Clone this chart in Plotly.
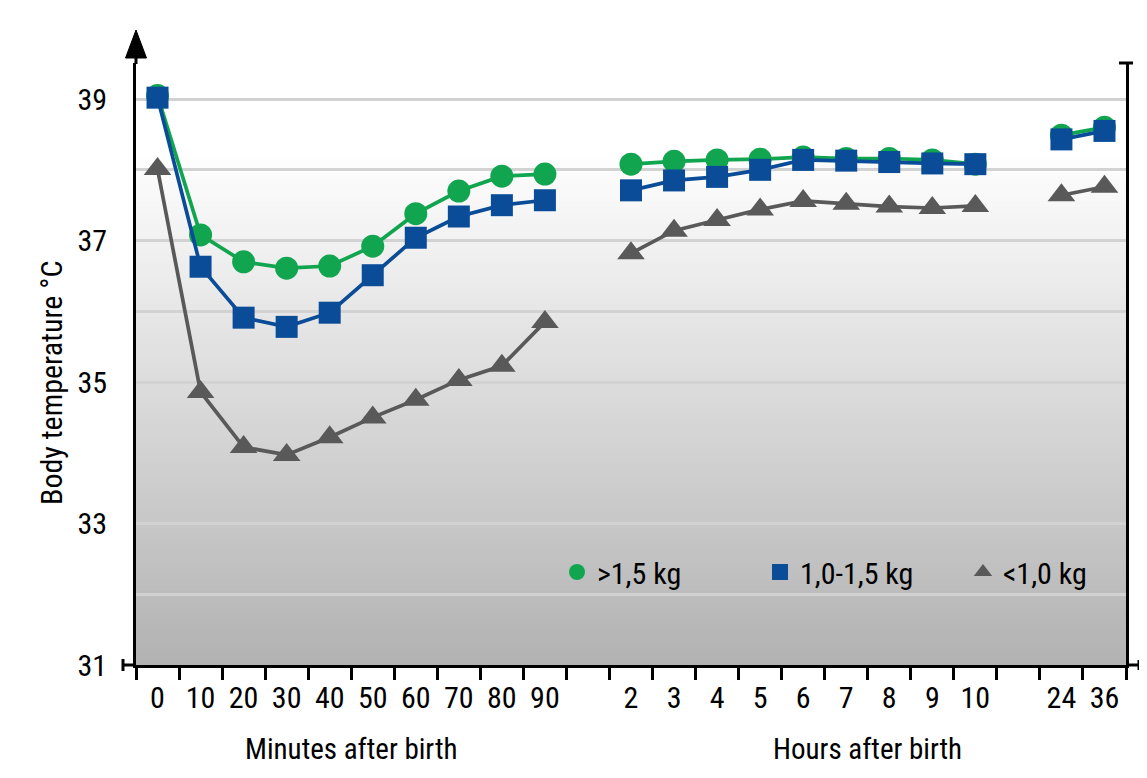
import plotly.graph_objects as go

# ---------------- data ----------------
x_labels = ["0", "10", "20", "30", "40", "50", "60", "70", "80", "90", "",
            "2", "3", "4", "5", "6", "7", "8", "9", "10", "",
            "24", "36"]
temp_over_1_5kg = [39.05, 37.08, 36.70, 36.61, 36.64, 36.92, 37.38, 37.70, 37.91, 37.94, None,
                   38.08, 38.12, 38.14, 38.15, 38.18, 38.16, 38.16, 38.14, 38.08, None,
                   38.49, 38.60]
temp_1_0_to_1_5kg = [39.02, 36.63, 35.91, 35.78, 35.98, 36.51, 37.04, 37.34, 37.50, 37.57, None,
                     37.71, 37.85, 37.90, 38.00, 38.14, 38.13, 38.11, 38.09, 38.08, None,
                     38.43, 38.55]
temp_under_1_0kg = [38.01, 34.86, 34.08, 33.97, 34.22, 34.50, 34.75, 35.03, 35.23, 35.85, None,
                    36.82, 37.14, 37.29, 37.44, 37.56, 37.52, 37.48, 37.46, 37.49, None,
                    37.64, 37.76]
series_names = [">1,5 kg", "1,0-1,5 kg", "<1,0 kg"]
y_tick_values = [31, 32, 33, 34, 35, 36, 37, 38, 39]
y_tick_labels = ["31", "", "33", "", "35", "", "37", "", "39"]
group_titles = ["Minutes after birth", "Hours after birth"]
y_title = "Body temperature °C"

# ---------------- style ----------------
FONT = "Liberation Sans Narrow, Arial Narrow, Roboto Condensed, sans-serif"
FS = 30
GREEN = "#12a550"
BLUE = "#0a4c97"
GRAY = "#595959"
OFF = 8                      # page body margin
SCREEN_W, SCREEN_H = 1147, 778
W, H = SCREEN_W - 2 * OFF, SCREEN_H - 2 * OFF
# plot area in screen pixels
PL, PR, PT, PB = 136, 1126, 63, 665
ML, MT = PL - OFF, PT - OFF
MR, MB = W - (PR - OFF), H - (PB - OFF)
Y0, Y1 = 31, 39.51
pw, ph = PR - PL, PB - PT

x = list(range(len(x_labels)))

fig = go.Figure()

# data traces (gray first, blue last so it sits on top)
for vals, col, sym, sz in [(temp_under_1_0kg, GRAY, "triangle-up", 24),
                           (temp_over_1_5kg, GREEN, "circle", 23),
                           (temp_1_0_to_1_5kg, BLUE, "square", 22)]:
    fig.add_trace(go.Scatter(x=x, y=vals, mode="lines+markers",
                             line=dict(color=col, width=3.7),
                             marker=dict(color=col, symbol=sym, size=sz),
                             connectgaps=False, showlegend=False, hoverinfo="skip"))

# legend entries (markers only)
for name, col, sym in zip(series_names, [GREEN, BLUE, GRAY], ["circle", "square", "triangle-up"]):
    fig.add_trace(go.Scatter(x=[None], y=[None], mode="markers", name=name,
                             marker=dict(color=col, symbol=sym, size=24)))


def px_to_paper(px, py):
    """screen pixel -> paper coords"""
    return (px - PL) / pw, (PB - py) / ph


shapes = []
# gradient background (white at top -> gray at bottom)
nb = 90
ytop_px = 150
for i in range(nb):
    py0 = PB - i * (PB - ytop_px) / nb
    py1 = PB - (i + 1) * (PB - ytop_px) / nb
    mid = (py0 + py1) / 2
    c = int(round(255 - (mid - ytop_px) * 0.15))
    c = max(0, min(255, c))
    shapes.append(dict(type="rect", xref="paper", yref="paper", x0=0, x1=1,
                       y0=(PB - py0) / ph, y1=(PB - py1) / ph + 0.002,
                       fillcolor=f"rgb({c},{c},{c})", line=dict(width=0), layer="below"))


def seg(p0, p1, w=3):
    a = px_to_paper(*p0)
    b = px_to_paper(*p1)
    shapes.append(dict(type="line", xref="paper", yref="paper", x0=a[0], y0=a[1], x1=b[0], y1=b[1],
                       line=dict(color="black", width=w), layer="above"))


# y-axis extension and arrowhead
seg((PL, PT + 1), (PL, 50))
ax, ay = px_to_paper(PL - 10.5, 58)
bx, by = px_to_paper(PL, 30)
cx, cy = px_to_paper(PL + 10.5, 58)
shapes.append(dict(type="path", xref="paper", yref="paper",
                   path=f"M {ax} {ay} L {bx} {by} L {cx} {cy} Z",
                   fillcolor="black", line=dict(color="black", width=1), layer="above"))
# right axis top cap
seg((PR - 7, PT), (PR + 7, PT))
# x-axis extension past right axis with end cap
seg((PR, PB), (PR + 13, PB))
seg((PR + 13, PB - 5), (PR + 13, PB + 5))
# y tick at 31 with end cap
seg((PL - 13, PB), (PL, PB))
seg((PL - 13, PB - 6), (PL - 13, PB + 6))

annotations = []
for title, xc in zip(group_titles, [4.5, 16.5]):
    annotations.append(dict(text=title, x=xc, xref="x", y=(PB - 749) / ph, yref="paper",
                            showarrow=False, xanchor="center", yanchor="middle",
                            font=dict(size=29, color="black", family=FONT)))
annotations.append(dict(text=y_title, x=(52 - PL) / pw, xref="paper", y=(PB - 383) / ph,
                        yref="paper", textangle=-90, showarrow=False,
                        xanchor="center", yanchor="middle",
                        font=dict(size=FS, color="black", family=FONT)))

fig.update_layout(
    width=W, height=H,
    margin=dict(l=ML, r=MR, t=MT, b=MB, autoexpand=False),
    paper_bgcolor="white", plot_bgcolor="white",
    font=dict(family=FONT, size=FS, color="black"),
    shapes=shapes, annotations=annotations,
    legend=dict(orientation="h", x=(557 - PL) / pw, xanchor="left",
                y=(PB - 572) / ph, yanchor="middle",
                bgcolor="rgba(0,0,0,0)", font=dict(size=FS, color="black", family=FONT),
                entrywidth=158, entrywidthmode="pixels", itemclick=False),
    xaxis=dict(range=[-0.5, len(x_labels) - 0.5], tickmode="array", tickvals=x, ticktext=x_labels,
               ticks="", showgrid=False, zeroline=False, showline=True, linecolor="black",
               linewidth=3, ticklabelstandoff=4, tickfont=dict(size=FS),
               minor=dict(tick0=-0.5, dtick=1, ticks="outside", ticklen=12, tickwidth=3,
                          tickcolor="black", showgrid=False)),
    yaxis=dict(range=[Y0, Y1], tickmode="array", tickvals=y_tick_values, ticktext=y_tick_labels,
               ticks="", showgrid=True, gridcolor="#d2d2d2", gridwidth=2.5, zeroline=False,
               showline=True, linecolor="black", linewidth=3, mirror=True,
               ticklabelstandoff=20, tickfont=dict(size=FS)),
)

fig.write_html("out.html")
